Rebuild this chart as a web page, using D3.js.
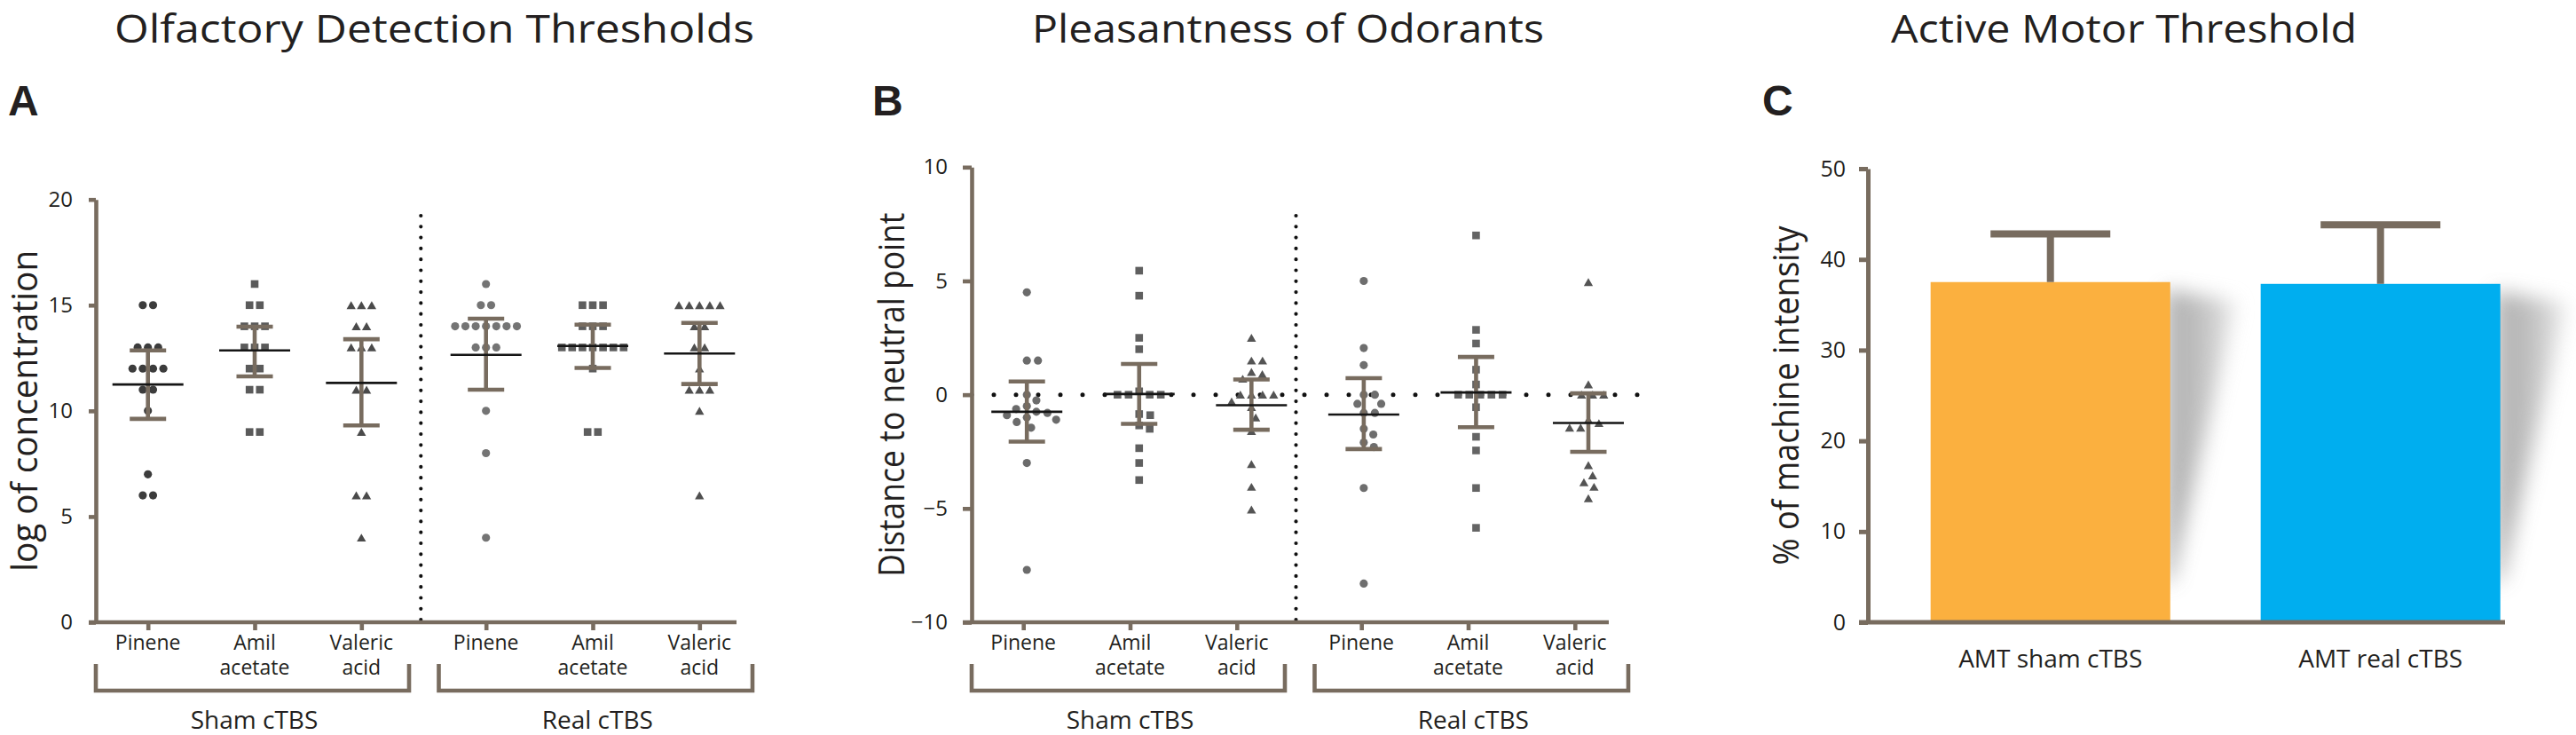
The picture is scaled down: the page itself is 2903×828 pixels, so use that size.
<!DOCTYPE html>
<html>
<head>
<meta charset="utf-8">
<script src="https://cdn.jsdelivr.net/npm/d3@7/dist/d3.min.js"></script>
<style>
  html, body { margin: 0; padding: 0; background: #fff; }
  svg text { font-family: "Open Sans", "Noto Sans", sans-serif; fill: #231f20; }
  .axis path, .axis line { stroke: #786c5f; }
  .axis text { font-family: "Open Sans", "Noto Sans", sans-serif; fill: #231f20; }
</style>
</head>
<body>
<svg id="fig" width="2903" height="828"></svg>
<script>
(function (d3) {

    // ---- data ----
    var odorants = [['Pinene'], ['Amil', 'acetate'], ['Valeric', 'acid']];
    var conditions = ['Sham cTBS', 'Real cTBS'];

    // A: olfactory detection thresholds (log of concentration)
    var thrShamPinene = [15, 15, 13, 13, 13, 12, 12, 12, 12, 11, 11, 10, 7, 6, 6];
    var thrShamAmil = [16, 15, 15, 14, 14, 14, 13, 13, 13, 12, 12, 11, 11, 9, 9];
    var thrShamValeric = [15, 15, 15, 14, 14, 13, 13, 13, 11, 11, 9, 6, 6, 4];
    var thrRealPinene = [16, 15, 15, 14, 14, 14, 14, 14, 14, 14, 13, 13, 13, 10, 8, 4];
    var thrRealAmil = [15, 15, 15, 14, 14, 14, 13, 13, 13, 13, 13, 13, 13, 12, 9, 9];
    var thrRealValeric = [15, 15, 15, 15, 15, 14, 14, 13, 13, 12, 11, 11, 11, 10, 6];
    var thrMean = [11.25, 12.86, 11.32, 12.65, 13.07, 12.71];
    var thrLow = [9.62, 11.63, 9.31, 11.0, 12.03, 11.27];
    var thrHigh = [12.86, 13.98, 13.39, 14.36, 14.08, 14.16];
    var thrTicks = [0, 5, 10, 15, 20];

    // B: pleasantness (distance to neutral point)
    var pleShamPinene = [4.5, 1.5, 1.5, 0, -0.25, -0.5, -0.63, -0.75, -0.8, -0.9, -1.0, -1.1, -1.2, -1.45, -3.0, -7.7];
    var pleShamAmil = [5.45, 4.35, 2.5, 2.0, 0.15, 0, 0, 0, 0, -0.85, -0.9, -1.35, -1.5, -2.35, -3.0, -3.75];
    var pleShamValeric = [2.5, 1.5, 1.5, 1.0, 0.9, 0.7, 0, 0, 0, 0, -0.3, -0.55, -1.0, -1.6, -3.05, -4.05, -5.05];
    var pleRealPinene = [5.0, 2.05, 1.3, 0, 0, -0.4, -0.4, -0.8, -0.8, -1.5, -1.75, -2.1, -2.3, -4.1, -8.3];
    var pleRealAmil = [7.0, 2.85, 2.25, 1.1, 0.45, 0, 0, 0, 0, 0, -0.55, -1.85, -2.45, -4.1, -5.85];
    var pleRealValeric = [4.95, 0.45, 0, 0, 0, -1.1, -1.25, -1.45, -1.45, -3.1, -3.55, -3.85, -4.05, -4.55];
    var pleMean = [-0.75, 0.03, -0.46, -0.87, 0.1, -1.24];
    var pleLow = [-2.06, -1.28, -1.54, -2.39, -1.43, -2.51];
    var pleHigh = [0.58, 1.35, 0.67, 0.73, 1.66, 0.06];
    var pleTicks = [-10, -5, 0, 5, 10];

    // C: active motor threshold
    var amtLabels = ['AMT sham cTBS', 'AMT real cTBS'];
    var amtMean = [37.5, 37.3];
    var amtUpper = [42.8, 43.8];
    var amtTicks = [0, 10, 20, 30, 40, 50];

    var titles = ['Olfactory Detection Thresholds', 'Pleasantness of Odorants', 'Active Motor Threshold'];

    // ---- styles ----
    var AXIS = '#786c5f';
    var symbols = [d3.symbolCircle, d3.symbolSquare, d3.symbolTriangle];
    var symbolSizes = [66, 74, 46];
    var fillsA = ['#3c3c3c', '#5a5a5a', '#4a4a4a', '#747474', '#5e5e5e', '#4f4f4f'];
    var fillsB = ['#6b6b6b', '#5f5f5f', '#545454', '#6e6e6e', '#646464', '#545454'];
    var barColors = ['#fbb03f', '#00aeef'];
    var titleX = [129, 1163, 2131];
    var titleLen = [721, 577, 525];

    var svg = d3.select('#fig');

    var defs = svg.append('defs');
    defs.append('filter')
        .attr('id', 'shadowBlur')
        .attr('x', '-50%').attr('y', '-50%').attr('width', '200%').attr('height', '200%')
        .append('feGaussianBlur')
        .attr('stdDeviation', 11);

    var grad = defs.append('linearGradient')
        .attr('id', 'shadowFade')
        .attr('x1', 0).attr('x2', 1).attr('y1', 0).attr('y2', 0);
    grad.append('stop').attr('offset', 0).attr('stop-color', '#9a9a9a');
    grad.append('stop').attr('offset', 0.55).attr('stop-color', '#b4b4b4');
    grad.append('stop').attr('offset', 1).attr('stop-color', '#e6e6e6');

    // titles and panel letters
    svg.selectAll('text.title')
        .data(titles)
        .enter()
        .append('text')
        .attr('class', 'title')
        .attr('x', function (d, i) { return titleX[i]; })
        .attr('y', 47.5)
        .attr('font-size', 44)
        .attr('textLength', function (d, i) { return titleLen[i]; })
        .attr('lengthAdjust', 'spacingAndGlyphs')
        .text(function (d) { return d; });

    svg.selectAll('text.letter')
        .data(['A', 'B', 'C'])
        .enter()
        .append('text')
        .attr('class', 'letter')
        .attr('x', function (d, i) { return [9, 983, 1986][i]; })
        .attr('y', 130)
        .attr('font-size', 48)
        .attr('font-weight', 'bold')
        .style('font-family', '"Liberation Sans", Arial, sans-serif')
        .text(function (d) { return d; });

    function slotOf(i) {
        return i + (i >= 3 ? 0.167 : 0);
    }

    // rows of tied values spread symmetrically
    function rowLayout(values, spacing) {
        var counts = {}, seen = {};
        values.forEach(function (v) { counts[v] = (counts[v] || 0) + 1; });
        return values.map(function (v) {
            var j = seen[v] || 0;
            seen[v] = j + 1;
            return { v: v, dx: (j - (counts[v] - 1) / 2) * spacing };
        });
    }

    // simple beeswarm: closest free spot to the column centre
    function swarmLayout(values, y, d) {
        var pts = values.map(function (v) { return { v: v, y: y(v) }; });
        pts.sort(function (a, b) { return b.v - a.v; });
        var placed = [];
        pts.forEach(function (p) {
            var cands = [0];
            placed.forEach(function (q) {
                var dy = Math.abs(q.y - p.y);
                if (dy < d) {
                    var dx = Math.sqrt(d * d - dy * dy);
                    cands.push(q.dx + dx, q.dx - dx);
                }
            });
            cands.sort(function (a, b) { return Math.abs(a) - Math.abs(b); });
            for (var k = 0; k < cands.length; k++) {
                var c = cands[k];
                var ok = placed.every(function (q) {
                    var ex = q.dx - c, ey = q.y - p.y;
                    return ex * ex + ey * ey >= d * d - 0.01;
                });
                if (ok) { p.dx = c; break; }
            }
            placed.push(p);
        });
        return placed;
    }

    function drawScatterPanel(p) {
        var g = svg.append('g');
        var y = d3.scaleLinear().domain(p.yDomain).range(p.yRange);
        var keys = d3.range(6);
        var tickScale = d3.scaleOrdinal()
            .domain(keys)
            .range(keys.map(function (i) { return p.tickX(slotOf(i)); }));

        // separator between sham and real
        g.append('line')
            .attr('x1', p.sepX).attr('x2', p.sepX)
            .attr('y1', p.sepTop).attr('y2', y(p.yDomain[0]))
            .attr('stroke', '#111')
            .attr('stroke-width', 4.2)
            .attr('stroke-linecap', 'round')
            .attr('stroke-dasharray', '0,12.3');

        if (p.zeroLine) {
            g.append('line')
                .attr('x1', p.axisX).attr('x2', p.zeroEnd)
                .attr('y1', y(0)).attr('y2', y(0))
                .attr('stroke', '#111')
                .attr('stroke-width', 5)
                .attr('stroke-linecap', 'round')
                .attr('stroke-dasharray', '0,25');
        }

        // points
        p.columns.forEach(function (vals, i) {
            var cx = p.dataX(i);
            var pts = p.swarm ? swarmLayout(vals, y, 12.5) : rowLayout(vals, 11.6);
            var sym = d3.symbol().type(symbols[i % 3]).size(symbolSizes[i % 3]);
            var shift = (i % 3 === 2) ? 1.4 : 0;
            g.append('g')
                .selectAll('path')
                .data(pts)
                .enter()
                .append('path')
                .attr('d', sym)
                .attr('transform', function (d) {
                    return 'translate(' + (cx + d.dx) + ',' + (y(d.v) + shift) + ')';
                })
                .attr('fill', p.fills[i]);
        });

        // error bars and means
        var eb = g.append('g')
            .attr('stroke', AXIS)
            .attr('stroke-width', 4.6);
        keys.forEach(function (i) {
            var cx = p.dataX(i);
            eb.append('line')
                .attr('x1', cx).attr('x2', cx)
                .attr('y1', y(p.low[i])).attr('y2', y(p.high[i]));
            [p.low[i], p.high[i]].forEach(function (v) {
                eb.append('line')
                    .attr('x1', cx - 20.5).attr('x2', cx + 20.5)
                    .attr('y1', y(v)).attr('y2', y(v));
            });
            g.append('line')
                .attr('x1', cx - 40).attr('x2', cx + 40)
                .attr('y1', y(p.mean[i])).attr('y2', y(p.mean[i]))
                .attr('stroke', '#151515')
                .attr('stroke-width', 2.6);
        });

        // axes
        var yAxis = d3.axisLeft(y)
            .tickValues(p.ticks)
            .tickSizeInner(p.tickSize)
            .tickSizeOuter(0)
            .tickPadding(p.tickPad);

        g.append('g')
            .attr('class', 'axis')
            .attr('transform', 'translate(' + p.axisX + ',0)')
            .call(yAxis)
            .call(function (s) {
                s.selectAll('path, line').attr('stroke-width', 4.6);
                s.selectAll('text').attr('font-size', 24).attr('fill', '#231f20');
            });

        var xAxis = d3.axisBottom(tickScale)
            .tickSizeInner(9)
            .tickSizeOuter(0)
            .tickFormat('');

        g.append('g')
            .attr('class', 'axis')
            .attr('transform', 'translate(0,' + y(p.yDomain[0]) + ')')
            .call(xAxis)
            .call(function (s) {
                s.select('.domain').remove();
                s.selectAll('line').attr('stroke-width', 4.6);
            });

        g.append('line')
            .attr('x1', p.axisX - p.tickSize).attr('x2', p.axisRight)
            .attr('y1', y(p.yDomain[0])).attr('y2', y(p.yDomain[0]))
            .attr('stroke', AXIS)
            .attr('stroke-width', 4.6);

        // category labels
        keys.forEach(function (i) {
            var t = g.append('text')
                .attr('text-anchor', 'middle')
                .attr('font-size', 23)
                .attr('y', 731.7);
            odorants[i % 3].forEach(function (line, k) {
                t.append('tspan')
                    .attr('x', tickScale(i))
                    .attr('dy', k === 0 ? 0 : 28.5)
                    .text(line);
            });
        });

        // condition brackets
        p.brackets.forEach(function (b, k) {
            g.append('path')
                .attr('d', 'M' + b[0] + ',748V778H' + b[1] + 'V748')
                .attr('fill', 'none')
                .attr('stroke', AXIS)
                .attr('stroke-width', 4.6);
            g.append('text')
                .attr('x', (b[0] + b[1]) / 2 + 2)
                .attr('y', 821)
                .attr('text-anchor', 'middle')
                .attr('font-size', 28)
                .text(conditions[k]);
        });

        // y label
        var cy = (p.yRange[0] + p.yRange[1]) / 2;
        g.append('text')
            .attr('transform', 'translate(' + p.yLabelX + ',' + cy + ') rotate(-90)')
            .attr('text-anchor', 'middle')
            .attr('font-size', 40)
            .attr('textLength', p.yLabelLen)
            .attr('lengthAdjust', 'spacingAndGlyphs')
            .text(p.yLabel);
    }

    var tickA = d3.scaleLinear().domain([0, 5.167]).range([166.7, 788.3]);
    var tickB = d3.scaleLinear().domain([0, 5.167]).range([1153.2, 1774.8]);
    var dataB = d3.scaleLinear().domain([0, 5]).range([1157.2, 1790]);

    drawScatterPanel({
        columns: [thrShamPinene, thrShamAmil, thrShamValeric, thrRealPinene, thrRealAmil, thrRealValeric],
        mean: thrMean, low: thrLow, high: thrHigh, ticks: thrTicks,
        yDomain: [0, 20], yRange: [701, 224.7],
        axisX: 108, axisRight: 830,
        tickX: tickA,
        dataX: function (i) { return tickA(slotOf(i)); },
        sepX: 474.3, sepTop: 243,
        zeroLine: false, swarm: false,
        fills: fillsA,
        tickSize: 8, tickPad: 18,
        brackets: [[108, 461], [494.5, 848]],
        yLabel: 'log of concentration', yLabelX: 42, yLabelLen: 362
    });

    drawScatterPanel({
        columns: [pleShamPinene, pleShamAmil, pleShamValeric, pleRealPinene, pleRealAmil, pleRealValeric],
        mean: pleMean, low: pleLow, high: pleHigh, ticks: pleTicks,
        yDomain: [-10, 10], yRange: [701, 188.3],
        axisX: 1095, axisRight: 1813,
        tickX: tickB,
        dataX: function (i) { return dataB(i); },
        sepX: 1460.5, sepTop: 243,
        zeroLine: true, zeroEnd: 1850, swarm: true,
        fills: fillsB,
        tickSize: 10, tickPad: 17,
        brackets: [[1095, 1448], [1481.5, 1835]],
        yLabel: 'Distance to neutral point', yLabelX: 1018.5, yLabelLen: 410
    });

    // ---- panel C ----
    var gc = svg.append('g');
    var amtY = d3.scaleLinear().domain([0, 50]).range([701, 190]);
    var amtX = d3.scaleBand()
        .domain(amtLabels)
        .range([2105, 2888.4])
        .paddingInner(0.274)
        .paddingOuter(0.19);

    var bars = amtLabels.map(function (label, i) {
        return { label: label, mean: amtMean[i], upper: amtUpper[i], color: barColors[i] };
    });

    gc.selectAll('polygon.shadow')
        .data(bars)
        .enter()
        .append('polygon')
        .attr('class', 'shadow')
        .attr('points', function (d) {
            var r = amtX(d.label) + amtX.bandwidth();
            var top = amtY(d.mean);
            var bottom = amtY(0);
            return [[r - 6, top + 8], [r + 74, top + 22], [r + 2, bottom - 45], [r - 6, bottom - 45]]
                .map(function (pt) { return pt.join(','); }).join(' ');
        })
        .attr('fill', 'url(#shadowFade)')
        .attr('opacity', 0.8)
        .attr('filter', 'url(#shadowBlur)');

    gc.selectAll('rect.bar')
        .data(bars)
        .enter()
        .append('rect')
        .attr('class', 'bar')
        .attr('x', function (d) { return amtX(d.label); })
        .attr('width', amtX.bandwidth())
        .attr('y', function (d) { return amtY(d.mean); })
        .attr('height', function (d) { return amtY(0) - amtY(d.mean); })
        .attr('fill', function (d) { return d.color; });

    var ebc = gc.append('g').attr('stroke', AXIS).attr('stroke-width', 8);
    bars.forEach(function (d) {
        var cx = amtX(d.label) + amtX.bandwidth() / 2;
        ebc.append('line')
            .attr('x1', cx).attr('x2', cx)
            .attr('y1', amtY(d.mean)).attr('y2', amtY(d.upper));
        ebc.append('line')
            .attr('x1', cx - 67.5).attr('x2', cx + 67.5)
            .attr('y1', amtY(d.upper)).attr('y2', amtY(d.upper));
    });

    gc.append('g')
        .attr('class', 'axis')
        .attr('transform', 'translate(2105,0)')
        .call(d3.axisLeft(amtY).tickValues(amtTicks).tickSizeInner(10).tickSizeOuter(0).tickPadding(15))
        .call(function (s) {
            s.selectAll('path, line').attr('stroke-width', 5);
            s.selectAll('text').attr('font-size', 25).attr('fill', '#231f20');
        });

    gc.append('line')
        .attr('x1', 2095).attr('x2', 2823)
        .attr('y1', amtY(0)).attr('y2', amtY(0))
        .attr('stroke', AXIS)
        .attr('stroke-width', 5);

    gc.selectAll('text.cat')
        .data(bars)
        .enter()
        .append('text')
        .attr('class', 'cat')
        .attr('x', function (d) { return amtX(d.label) + amtX.bandwidth() / 2; })
        .attr('y', 751.7)
        .attr('text-anchor', 'middle')
        .attr('font-size', 28)
        .text(function (d) { return d.label; });

    gc.append('text')
        .attr('transform', 'translate(2027,' + ((amtY(0) + amtY(50)) / 2) + ') rotate(-90)')
        .attr('text-anchor', 'middle')
        .attr('font-size', 40)
        .attr('textLength', 382)
        .attr('lengthAdjust', 'spacingAndGlyphs')
        .text('% of machine intensity');

})(d3);
</script>
</body>
</html>
